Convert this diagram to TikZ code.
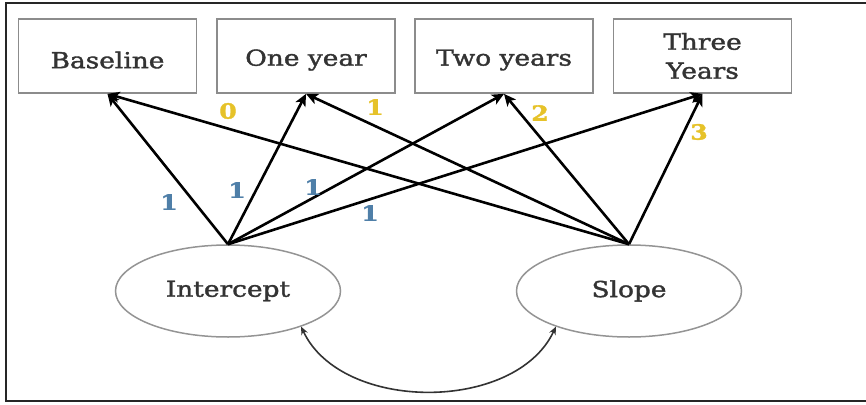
\documentclass[tikz,border=0pt]{standalone}
\usepackage{fontspec}
\setmainfont[FakeStretch=1.2,FakeBold=1.6]{DejaVu Serif}
\usetikzlibrary{arrows.meta,shapes.geometric}
\definecolor{txt}{HTML}{333333}
\definecolor{loadblue}{HTML}{4F7FA8}
\definecolor{loadgold}{HTML}{E6C229}
% shift a label down without changing the size the node sees
\newcommand{\lowered}[1]{\raisebox{-4pt}[\height][\depth]{#1}}
\begin{document}
\begin{tikzpicture}[x=1pt,y=1pt,
  wave/.style={draw=black!45, line width=1.7pt, minimum width=178pt, minimum height=74pt,
    inner sep=0pt, align=center, text=txt, font=\fontsize{22}{29}\selectfont},
  factor/.style={ellipse, draw=black!42, line width=1.5pt, minimum width=225pt, minimum height=92pt,
    inner sep=0pt, text=txt, font=\fontsize{22}{24}\selectfont},
  load/.style={-{Stealth[length=12pt,width=11pt,inset=3pt]}, line width=2.6pt, black},
  cov/.style={{Stealth[length=8pt,width=7pt]}-{Stealth[length=8pt,width=7pt]}, line width=1.6pt, black!80},
  wlab/.style={font=\fontsize{21}{22}\selectfont\bfseries, inner sep=0pt},
  iw/.style={wlab, text=loadblue},
  sw/.style={wlab, text=loadgold}]
\useasboundingbox (0,0) rectangle (866,-404);
% outer frame (open on the right)
\draw[line width=2.2pt, black!85] (866,-3) -- (6,-3) -- (6,-401) -- (866,-401);

% measurement occasions
\node[wave] (b0) at (107.5,-56) {\lowered{Baseline}};
\node[wave] (b1) at (306,-56) {\lowered{One year}};
\node[wave] (b2) at (504,-56) {\lowered{Two years}};
\node[wave] (b3) at (702.5,-56) {Three\\Years};

% latent growth factors
\node[factor] (int) at (228,-291) {Intercept};
\node[factor] (slp) at (629,-291) {Slope};

% intercept loadings
\foreach \t in {b0,b1,b2,b3} \draw[load] (int.north) -- (\t.south);
% slope loadings
\foreach \t in {b0,b1,b2,b3} \draw[load] (slp.north) -- (\t.south);

% loading values
\node[iw] (i0) at (169,-202) {1};
\node[iw] (i1) at (237,-190) {1};
\node[iw] (i2) at (313,-187) {1};
\node[iw] (i3) at (370,-213) {1};
\node[sw] (s0) at (228,-111) {0};
\node[sw] (s1) at (375,-107) {1};
\node[sw] (s2) at (540,-113) {2};
\node[sw] (s3) at (699,-132) {3};

% factor covariance
\draw[cov] (int.-26) .. controls +(-65:95) and +(-115:95) .. (slp.206);
\end{tikzpicture}
\end{document}
